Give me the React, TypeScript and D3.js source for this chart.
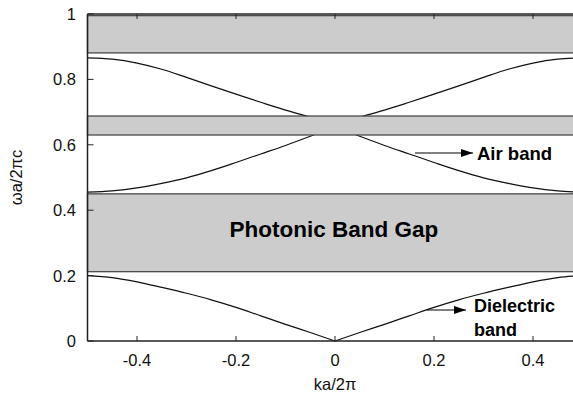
import React from "react";
import * as d3 from "d3";

// wave vector samples (left half, mirrored for the right half)
const kHalf = [-0.5, -0.45, -0.4, -0.35, -0.3, -0.25, -0.2, -0.15, -0.1, -0.05, 0];
const dielectricBand = [0.2, 0.194, 0.181, 0.164, 0.146, 0.126, 0.103, 0.077, 0.051, 0.026, 0];
const airBand = [0.455, 0.459, 0.468, 0.482, 0.499, 0.521, 0.546, 0.572, 0.598, 0.626, 0.655];
const upperBand = [0.866, 0.862, 0.85, 0.831, 0.806, 0.78, 0.755, 0.73, 0.706, 0.685, 0.665];

// gaps: [low, high]
const gaps: [number, number][] = [
  [0.881, 0.995],
  [0.63, 0.688],
  [0.212, 0.45],
];

const xTicks = [-0.4, -0.2, 0, 0.2, 0.4];
const yTicks = [0, 0.2, 0.4, 0.6, 0.8, 1];

const W = 573;
const H = 398;
const font = "'Liberation Sans', Arial, Helvetica, sans-serif";

const App: React.FC = () => {
  const x = d3.scaleLinear().domain([-0.5, 0.5]).range([87.5, 582.5]);
  const y = d3.scaleLinear().domain([0, 1]).range([341, 14]);

  const line = d3
    .line<[number, number]>()
    .x((d) => x(d[0]))
    .y((d) => y(d[1]))
    .curve(d3.curveMonotoneX);

  const halves = (vals: number[]) => {
    const left = kHalf.map((k, i) => [k, vals[i]] as [number, number]);
    const right = kHalf
      .map((k, i) => [-k, vals[i]] as [number, number])
      .reverse();
    return [line(left) || "", line(right) || ""];
  };

  const bands = [dielectricBand, airBand, upperBand];
  const fmt = (v: number) => (v === 0 ? "0" : v === 1 ? "1" : String(v));

  return (
    <div style={{ position: "fixed", left: 0, top: 0 }}>
      <svg width={W} height={H} style={{ display: "block", background: "#fff" }}>
        <defs>
          <marker id="arr" viewBox="0 0 12 8" refX="12" refY="4" markerWidth="12" markerHeight="8" markerUnits="userSpaceOnUse" orient="auto">
            <path d="M0,0 L12,4 L0,8 Z" fill="#000" />
          </marker>
        </defs>

        {/* band curves */}
        {bands.map((b, i) =>
          halves(b).map((d, j) => (
            <path key={`b${i}-${j}`} d={d} fill="none" stroke="#111" strokeWidth={1.2} />
          ))
        )}

        {/* gap boxes, drawn over the curves */}
        {gaps.map(([lo, hi], i) => (
          <rect
            key={`g${i}`}
            x={x(-0.5)}
            y={y(hi)}
            width={x(0.5) - x(-0.5)}
            height={y(lo) - y(hi)}
            fill="#cccccc"
            stroke="#4a4a4a"
            strokeWidth={1.3}
          />
        ))}

        {/* frame */}
        <line x1={x(-0.5)} x2={x(-0.5)} y1={y(0)} y2={y(1)} stroke="#222" strokeWidth={1.5} />
        <line x1={x(-0.5)} x2={W} y1={y(0)} y2={y(0)} stroke="#222" strokeWidth={1.5} />
        <line x1={x(-0.5)} x2={W} y1={y(1)} y2={y(1)} stroke="#222" strokeWidth={1.5} />

        {/* x ticks */}
        {xTicks.map((t) => (
          <g key={`x${t}`}>
            <line x1={x(t)} x2={x(t)} y1={y(0)} y2={y(0) - 5} stroke="#222" />
            <line x1={x(t)} x2={x(t)} y1={y(1)} y2={y(1) + 5} stroke="#222" />
            <text x={x(t)} y={365.5} textAnchor="middle" fontFamily={font} fontSize={16.5} fill="#111">
              {fmt(t)}
            </text>
          </g>
        ))}

        {/* y ticks */}
        {yTicks.map((t) => (
          <g key={`y${t}`}>
            <line x1={x(-0.5)} x2={x(-0.5) + 6} y1={y(t)} y2={y(t)} stroke="#222" />
            <text x={76} y={y(t) + 6} textAnchor="end" fontFamily={font} fontSize={16.5} fill="#111">
              {fmt(t)}
            </text>
          </g>
        ))}

        {/* axis titles */}
        <text x={335} y={390} textAnchor="middle" fontFamily={font} fontSize={16.5} fill="#111">
          ka/2π
        </text>
        <text
          transform={`translate(22, ${(y(0) + y(1)) / 2}) rotate(-90)`}
          textAnchor="middle"
          fontFamily={font}
          fontSize={16.5}
          fill="#111"
        >
          ωa/2πc
        </text>

        {/* labels */}
        <text x={334} y={237} textAnchor="middle" fontFamily={font} fontSize={22.5} fontWeight="bold" fill="#000">
          Photonic Band Gap
        </text>

        <line x1={415} x2={473} y1={153} y2={153} stroke="#000" strokeWidth={1.2} markerEnd="url(#arr)" />
        <text x={477} y={160} fontFamily={font} fontSize={18.5} fontWeight="bold" fill="#000">
          Air band
        </text>

        <line x1={427} x2={466} y1={310} y2={310} stroke="#000" strokeWidth={1.2} markerEnd="url(#arr)" />
        <text x={474} y={311.5} fontFamily={font} fontSize={18} fontWeight="bold" fill="#000">
          Dielectric
        </text>
        <text x={474} y={335.5} fontFamily={font} fontSize={18} fontWeight="bold" fill="#000">
          band
        </text>
      </svg>
    </div>
  );
};

export default App;
